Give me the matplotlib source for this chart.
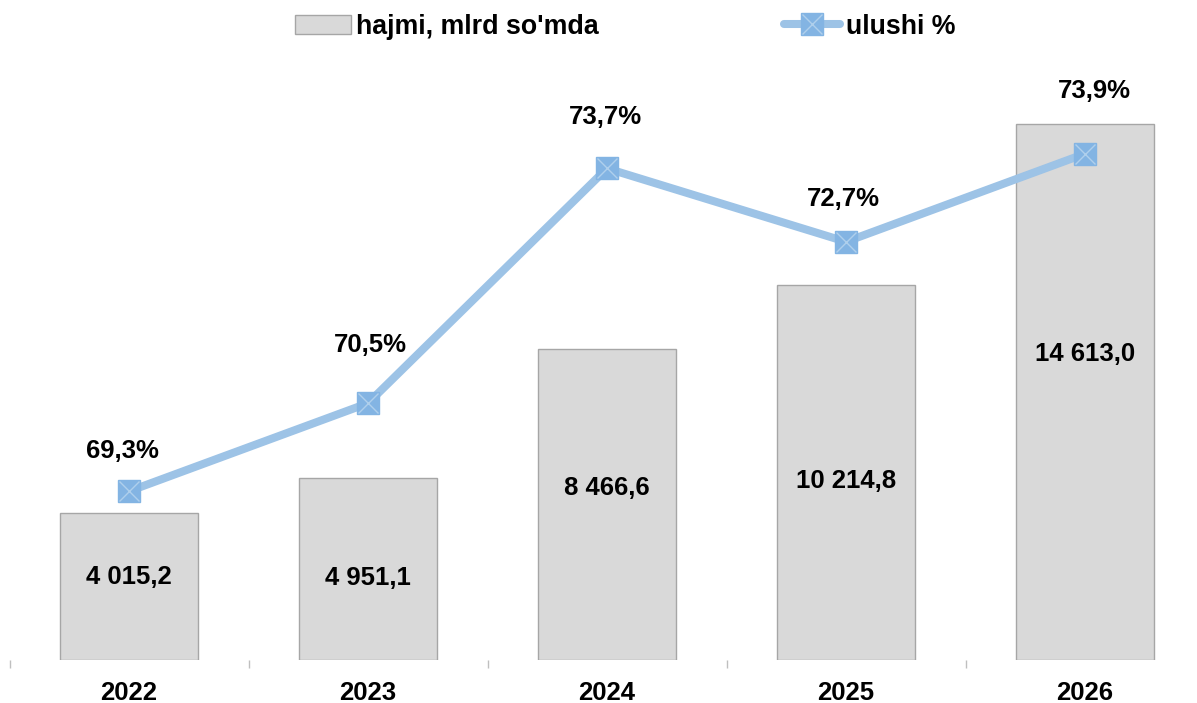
import matplotlib
matplotlib.use('Agg')
from matplotlib import pyplot as plt
from matplotlib.legend_handler import HandlerTuple
import numpy as np

plt.rcParams['font.family'] = ['Liberation Sans', 'DejaVu Sans']
plt.rcParams['font.weight'] = 'bold'

years = ['2022', '2023', '2024', '2025', '2026']
volume = [4015.2, 4951.1, 8466.6, 10214.8, 14613.0]
share = [69.3, 70.5, 73.7, 72.7, 73.9]
volume_labels = ['4 015,2', '4 951,1', '8 466,6', '10 214,8', '14 613,0']
share_labels = ['69,3%', '70,5%', '73,7%', '72,7%', '73,9%']

# label nudges in points (manual placement like in the original)
bar_dy = [7, -6, 12, -6, 27]
line_dx = [-5, 2, -1, -2, 7]
line_dy = [29, 42, 37, 31, 45]

x = np.arange(len(years))

fig = plt.figure(figsize=(11.97, 7.03), dpi=100)
ax = fig.add_axes([9.5 / 1197, 43 / 703, 1195 / 1197, 587 / 703])
ax2 = ax.twinx()

bars = ax.bar(x, volume, width=0.58, color='#D9D9D9', edgecolor='#A6A6A6', linewidth=1)
for i, b in enumerate(bars):
    ax.annotate(volume_labels[i], (b.get_x() + b.get_width() / 2, b.get_height() / 2),
                xytext=(0, bar_dy[i]), textcoords='offset points',
                ha='center', va='center', fontsize=18.5, fontweight='bold')

line, = ax2.plot(x, share, color='#9DC3E6', linewidth=5.8, marker='s', markersize=16.5,
                 markerfacecolor='#83B4E3', markeredgecolor='#83B4E3', solid_capstyle='round')
cross, = ax2.plot(x, share, linestyle='none', marker='x', markersize=15,
                  markeredgecolor='#AFCFEC', markeredgewidth=1)
for i in range(len(x)):
    ax2.annotate(share_labels[i], (x[i], share[i]), xytext=(line_dx[i], line_dy[i]),
                 textcoords='offset points', ha='center', va='center',
                 fontsize=18.5, fontweight='bold')

ax.set_xlim(-0.5, len(years) - 0.5)
ax.set_ylim(0, 16000)
ax2.set_ylim(67, 75)

ax.set_xticks(x)
ax.set_xticklabels(years, fontsize=18.5, fontweight='bold')
ax.tick_params(axis='x', which='major', length=0, pad=15)
ax.set_xticks(np.arange(len(years) + 1) - 0.5, minor=True)
ax.tick_params(axis='x', which='minor', length=6, width=1, color='#BFBFBF')
ax.set_yticks([])
ax2.set_yticks([])
for a in (ax, ax2):
    for s in a.spines.values():
        s.set_visible(False)

fig.legend([bars, (line, cross)], ['hajmi, mlrd so\'mda', 'ulushi %'],
           handler_map={tuple: HandlerTuple(ndivide=1)},
           loc='center', bbox_to_anchor=(0.522, 0.962), ncol=2, frameon=False,
           handlelength=2.1, handletextpad=0.2, columnspacing=6.9,
           prop={'weight': 'bold', 'size': 19.3})

fig.savefig('out.png', dpi=100)
